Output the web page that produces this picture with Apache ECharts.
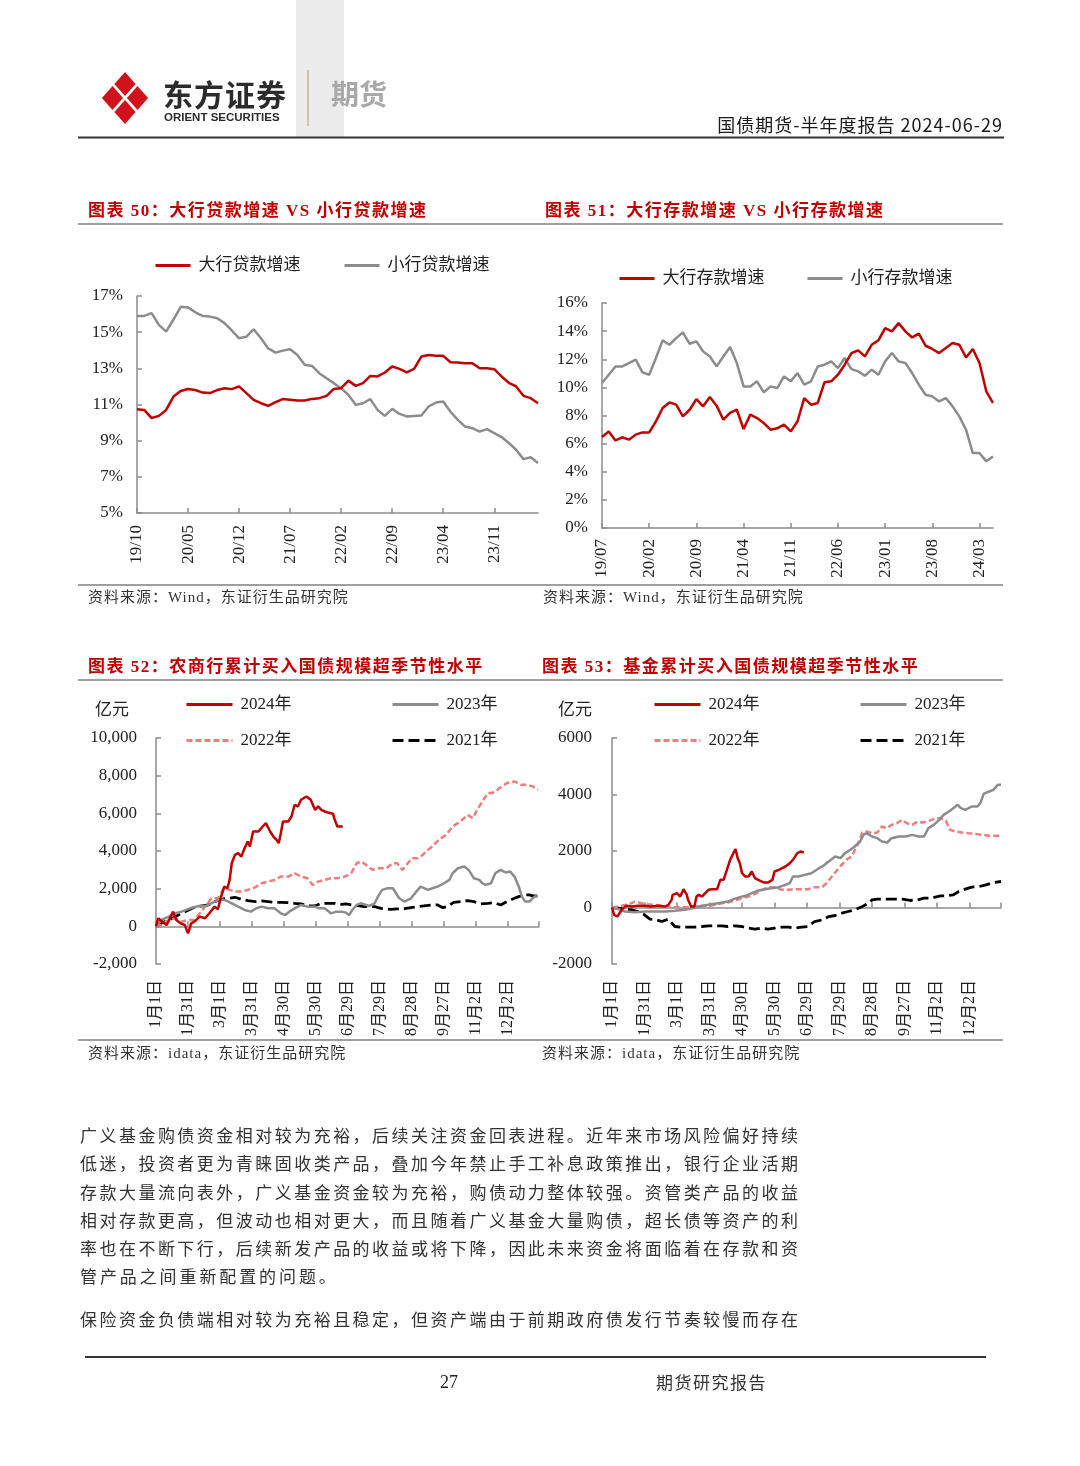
<!DOCTYPE html>
<html><head><meta charset="utf-8">
<script src="https://cdn.jsdelivr.net/npm/echarts@6/dist/echarts.min.js"></script>
<style>
html,body{margin:0;padding:0;background:#fff;}
#page{position:relative;width:1080px;height:1466px;overflow:hidden;background:#fff;}
#chart{position:absolute;left:0;top:0;width:1080px;height:1466px;}
.t{position:absolute;white-space:nowrap;line-height:1;font-family:"Liberation Serif","Noto Sans CJK SC",serif;z-index:5;}
.s{font-family:"Noto Sans CJK SC",sans-serif;}
.title{font-size:17px;font-weight:700;color:#c00000;letter-spacing:1.5px;}
.src{font-size:15px;color:#333;letter-spacing:1px;}
.p{font-size:17px;color:#333;width:718px;text-align:justify;text-align-last:justify;}
</style></head>
<body><div id="page">
<div id="chart"></div>
<div class="t s" style="left:163px;top:78px;font-size:30px;font-weight:700;color:#2b2b2b;letter-spacing:1px">东方证券</div>
<div class="t" style="left:164px;top:112px;font-size:11.5px;font-weight:700;color:#2b2b2b;font-family:'Liberation Sans',Arial,sans-serif">ORIENT SECURITIES</div>
<div class="t s" style="left:331px;top:79px;font-size:28px;font-weight:700;color:#a9a9a9">期货</div>
<div class="t s" style="right:77px;top:115px;font-size:18px;color:#1a1a1a;letter-spacing:1px">国债期货-半年度报告 2024-06-29</div>

<div class="t title" style="left:88px;top:202px">图表 50：大行贷款增速 VS 小行贷款增速</div>
<div class="t title" style="left:545px;top:202px">图表 51：大行存款增速 VS 小行存款增速</div>
<div class="t src" style="left:88px;top:590px">资料来源：Wind，东证衍生品研究院</div>
<div class="t src" style="left:543px;top:590px">资料来源：Wind，东证衍生品研究院</div>

<div class="t title" style="left:88px;top:658px">图表 52：农商行累计买入国债规模超季节性水平</div>
<div class="t title" style="left:542px;top:658px">图表 53：基金累计买入国债规模超季节性水平</div>
<div class="t s" style="left:95px;top:699px;font-size:17px;color:#222">亿元</div>
<div class="t s" style="left:558px;top:699px;font-size:17px;color:#222">亿元</div>
<div class="t src" style="left:88px;top:1046px">资料来源：idata，东证衍生品研究院</div>
<div class="t src" style="left:542px;top:1046px">资料来源：idata，东证衍生品研究院</div>

<div class="t p" style="left:80px;top:1128px">广义基金购债资金相对较为充裕，后续关注资金回表进程。近年来市场风险偏好持续</div>
<div class="t p" style="left:80px;top:1156px">低迷，投资者更为青睐固收类产品，叠加今年禁止手工补息政策推出，银行企业活期</div>
<div class="t p" style="left:80px;top:1185px">存款大量流向表外，广义基金资金较为充裕，购债动力整体较强。资管类产品的收益</div>
<div class="t p" style="left:80px;top:1213px">相对存款更高，但波动也相对更大，而且随着广义基金大量购债，超长债等资产的利</div>
<div class="t p" style="left:80px;top:1241px">率也在不断下行，后续新发产品的收益或将下降，因此未来资金将面临着在存款和资</div>
<div class="t" style="left:80px;top:1269px;font-size:17px;color:#333;letter-spacing:2.9px">管产品之间重新配置的问题。</div>
<div class="t p" style="left:80px;top:1312px">保险资金负债端相对较为充裕且稳定，但资产端由于前期政府债发行节奏较慢而存在</div>

<div class="t" style="left:440px;top:1373px;font-size:18px;color:#222">27</div>
<div class="t s" style="left:656px;top:1373px;font-size:17px;color:#333;letter-spacing:1.5px">期货研究报告</div>
</div>
<script>
// ---------- data ----------
const cat50 = ['19/10','19/11','19/12','20/01','20/02','20/03','20/04','20/05','20/06','20/07','20/08','20/09','20/10','20/11','20/12','21/01','21/02','21/03','21/04','21/05','21/06','21/07','21/08','21/09','21/10','21/11','21/12','22/01','22/02','22/03','22/04','22/05','22/06','22/07','22/08','22/09','22/10','22/11','22/12','23/01','23/02','23/03','23/04','23/05','23/06','23/07','23/08','23/09','23/10','23/11','23/12','24/01','24/02','24/03','24/04','24/05'];
const big50 = [10.74,10.7,10.25,10.37,10.7,11.44,11.75,11.86,11.8,11.66,11.63,11.8,11.9,11.85,12.0,11.63,11.26,11.07,10.93,11.13,11.3,11.26,11.22,11.22,11.31,11.35,11.48,11.86,11.9,12.32,12.03,12.18,12.58,12.55,12.77,13.1,12.97,12.78,12.97,13.65,13.74,13.7,13.69,13.34,13.32,13.28,13.28,13.0,13.0,12.95,12.55,12.2,12.0,11.48,11.35,11.07];
const small50 = [15.9,15.9,16.05,15.4,15.03,15.7,16.4,16.37,16.1,15.9,15.86,15.77,15.5,15.1,14.66,14.75,15.16,14.66,14.1,13.87,13.98,14.05,13.74,13.2,13.13,12.73,12.45,12.18,11.9,11.53,10.98,11.07,11.3,10.7,10.37,10.76,10.48,10.34,10.37,10.39,10.89,11.11,11.17,10.6,10.15,9.78,9.69,9.5,9.64,9.42,9.2,8.87,8.5,7.98,8.08,7.76];

const cat51 = ['19/07','19/08','19/09','19/10','19/11','19/12','20/01','20/02','20/03','20/04','20/05','20/06','20/07','20/08','20/09','20/10','20/11','20/12','21/01','21/02','21/03','21/04','21/05','21/06','21/07','21/08','21/09','21/10','21/11','21/12','22/01','22/02','22/03','22/04','22/05','22/06','22/07','22/08','22/09','22/10','22/11','22/12','23/01','23/02','23/03','23/04','23/05','23/06','23/07','23/08','23/09','23/10','23/11','23/12','24/01','24/02','24/03','24/04','24/05'];
const big51 = [6.47,6.87,6.23,6.45,6.28,6.64,6.8,6.8,7.58,8.53,8.93,8.77,7.94,8.41,9.17,8.65,9.31,8.7,7.7,8.18,8.41,7.04,8.06,7.82,7.46,6.99,7.09,7.35,6.87,7.58,9.24,8.77,8.89,10.36,10.43,10.9,11.61,12.44,12.63,12.2,13.03,13.34,14.22,13.98,14.57,13.98,13.55,13.82,12.96,12.73,12.44,12.8,13.15,13.03,12.13,12.73,11.73,9.72,8.89];
const small51 = [10.31,10.9,11.49,11.49,11.73,11.97,11.07,10.9,12.09,13.34,13.03,13.5,13.91,13.1,13.27,12.56,12.2,11.49,12.2,12.87,11.73,10.07,10.07,10.43,9.64,10.07,9.95,10.78,10.43,11.02,10.19,10.43,11.49,11.61,11.85,11.37,12.09,11.3,11.14,10.83,11.26,10.9,11.85,12.44,11.85,11.73,11.02,10.19,9.48,9.36,9.0,9.24,8.65,7.94,6.99,5.33,5.33,4.74,5.09];

// day-of-year axis (day index from 1月1日), labels every 30 days
const dayTickLabels = ['1月1日','1月31日','3月1日','3月31日','4月30日','5月30日','6月29日','7月29日','8月28日','9月27日','11月2日','12月2日'];

const rc2024 = [[0,0],[2,425],[6,248],[10,71],[16,780],[19,337],[23,160],[27,71],[30,-372],[33,160],[36,248],[41,514],[46,426],[50,691],[55,1046],[58,904],[61,1578],[64,2110],[67,2021],[69,2464],[71,3351],[74,3794],[77,3883],[80,3705],[83,4149],[86,4503],[88,4237],[91,5035],[96,5035],[100,5301],[103,5479],[107,5035],[110,4769],[113,4592],[115,4415],[117,4947],[119,5567],[124,5567],[127,5833],[130,6454],[133,6365],[136,6720],[141,6897],[145,6720],[149,6188],[152,6365],[155,6188],[158,6099],[161,6046],[166,5975],[167,5745],[170,5301],[174,5301],[175,5301]];
const rc2023 = [[0,0],[5,337],[12,514],[18,691],[24,780],[32,957],[40,1082],[47,1082],[55,1312],[61,1436],[66,1365],[71,1223],[77,1046],[83,869],[89,780],[94,957],[99,1046],[105,957],[111,957],[117,691],[121,603],[125,780],[130,957],[136,1135],[142,1046],[149,1046],[153,957],[158,957],[164,691],[169,780],[174,780],[178,727],[181,603],[184,869],[188,1135],[192,1223],[197,1135],[200,1082],[205,1223],[208,1578],[212,1933],[217,2021],[222,2021],[225,1755],[228,1489],[233,1312],[239,1489],[244,1844],[248,2110],[255,1933],[259,2021],[264,2110],[270,2287],[275,2464],[278,2819],[283,3085],[289,3174],[293,2996],[298,2553],[303,2464],[306,2287],[309,2199],[314,2287],[318,2819],[323,2996],[328,2855],[332,2908],[336,2642],[340,2110],[343,1578],[346,1312],[350,1312],[353,1489],[356,1613],[358,1578]];
const rc2022 = [[0,0],[5,71],[12,337],[18,426],[24,248],[30,337],[36,337],[41,691],[46,1046],[52,1489],[58,1489],[64,2021],[69,1933],[74,1844],[80,1844],[86,1933],[93,2074],[99,2287],[105,2376],[111,2464],[117,2642],[124,2642],[130,2819],[136,2642],[142,2553],[147,2199],[152,2376],[158,2464],[164,2553],[170,2553],[177,2642],[183,2819],[188,3351],[192,3440],[197,3262],[203,2996],[209,3085],[216,3085],[222,3351],[226,3351],[231,2996],[236,3351],[240,3617],[245,3617],[250,3794],[255,4060],[259,4237],[265,4592],[272,4858],[278,5301],[283,5479],[287,5656],[292,5922],[297,5745],[301,6188],[306,6631],[311,7074],[315,7074],[320,7252],[325,7464],[329,7606],[336,7695],[342,7517],[348,7517],[353,7429],[358,7252]];
const rc2021 = [[0,0],[5,160],[12,337],[18,514],[24,691],[32,904],[36,1011],[43,1082],[49,1135],[55,1312],[61,1436],[68,1489],[74,1543],[80,1436],[86,1365],[93,1312],[99,1347],[105,1312],[111,1277],[117,1277],[124,1259],[130,1223],[136,1188],[142,1082],[149,1082],[155,1223],[161,1223],[167,1223],[174,1170],[178,1188],[184,1135],[191,1082],[195,1046],[200,1046],[205,1046],[211,957],[216,922],[220,904],[226,922],[233,940],[239,993],[245,1046],[251,1082],[258,1135],[264,1135],[269,993],[273,1046],[279,1277],[286,1312],[292,1365],[298,1312],[304,1188],[311,1223],[317,1259],[323,1135],[329,1312],[336,1489],[340,1578],[345,1667],[350,1667],[353,1613],[358,1613]];

const fd2024 = [[0,0],[2,-260],[5,-319],[7,-201],[9,-83],[13,59],[18,35],[24,59],[30,59],[36,35],[43,59],[49,35],[52,94],[55,271],[56,448],[60,507],[63,389],[66,649],[69,448],[70,295],[73,35],[76,35],[78,389],[80,448],[83,389],[86,507],[89,625],[92,649],[97,649],[100,979],[103,979],[106,1333],[109,1687],[112,1923],[114,2065],[116,1746],[118,1569],[120,1215],[123,1097],[126,1097],[129,1274],[132,1038],[135,979],[140,885],[144,885],[148,979],[150,1274],[154,1333],[157,1392],[161,1475],[164,1569],[167,1687],[171,1923],[174,1982],[177,1947]];
const fd2023 = [[0,0],[6,-59],[12,-142],[21,-165],[30,-142],[39,-142],[49,-142],[58,-118],[67,-83],[73,-35],[80,35],[89,94],[98,153],[107,212],[113,307],[118,366],[123,413],[129,507],[135,602],[141,649],[147,684],[154,720],[160,802],[164,861],[167,1097],[172,1097],[178,1156],[184,1215],[191,1392],[195,1475],[200,1628],[206,1805],[211,1746],[215,1923],[220,2041],[224,2159],[229,2336],[232,2572],[235,2631],[240,2513],[245,2454],[249,2336],[254,2301],[258,2454],[265,2513],[271,2513],[277,2572],[283,2513],[288,2513],[292,2808],[297,2926],[302,3103],[306,3280],[311,3398],[315,3516],[319,3634],[322,3516],[326,3457],[332,3575],[337,3575],[340,3693],[343,4024],[348,4106],[352,4165],[356,4342],[359,4342]];
const fd2022 = [[0,0],[6,35],[12,94],[18,153],[21,212],[27,153],[33,118],[39,94],[46,59],[52,35],[58,12],[64,12],[70,12],[76,35],[83,59],[89,59],[95,94],[101,153],[107,177],[113,248],[120,330],[126,389],[132,484],[138,602],[144,720],[150,720],[157,625],[163,625],[169,649],[175,649],[181,649],[187,720],[194,720],[198,861],[203,1097],[208,1333],[212,1510],[217,1711],[221,1805],[226,2159],[231,2655],[235,2690],[240,2631],[245,2655],[249,2867],[254,2808],[258,2926],[263,2985],[268,3103],[272,2985],[277,2926],[282,3044],[286,3009],[292,3044],[298,3162],[303,3162],[308,3080],[312,2749],[317,2690],[323,2655],[329,2631],[335,2608],[342,2572],[348,2537],[354,2537],[359,2537]];
const fd2021 = [[0,0],[6,-24],[12,-59],[18,-83],[24,-142],[30,-260],[35,-413],[41,-437],[46,-496],[52,-413],[58,-673],[64,-696],[70,-696],[76,-696],[83,-673],[89,-649],[95,-649],[101,-649],[107,-673],[113,-649],[120,-673],[126,-732],[132,-767],[138,-732],[144,-767],[150,-732],[157,-696],[163,-696],[169,-732],[175,-696],[181,-673],[187,-496],[194,-437],[200,-319],[206,-283],[212,-201],[218,-142],[224,-83],[231,35],[237,153],[240,271],[245,295],[252,295],[260,295],[268,295],[275,248],[282,271],[288,330],[295,330],[303,413],[309,413],[315,448],[320,566],[326,649],[332,720],[339,743],[345,802],[352,885],[359,920]];

// ---------- styles ----------
const SERIF = '"Liberation Serif","Noto Sans CJK SC",serif';
const RED = '#c00000', GRAY = '#8c8c8c', PINK = '#ef7d7d', BLACK = '#000000';
const AX = '#8c8c8c';
const axLine = {lineStyle:{color:AX,width:1.5}};
const axTick = {inside:true,length:5,lineStyle:{color:AX,width:1.5}};
const lab = (o) => Object.assign({fontSize:17,color:'#222',fontFamily:SERIF}, o);
const dayFmt = v => (v % 30 === 0 && dayTickLabels[v/30] !== undefined) ? dayTickLabels[v/30] : '';

const leg = (name,left,top,w) => ({data:[name],left:left,top:top,padding:0,itemWidth:w,itemHeight:12,itemGap:0,selectedMode:false,
  itemStyle:{opacity:0},lineStyle:{width:3},
  textStyle:{fontSize:17,color:'#222',fontFamily:SERIF,padding:[0,0,0,3]}});

const line = (name,data,color,xi,yi,type,width) => ({name:name,type:'line',data:data,xAxisIndex:xi,yAxisIndex:yi,
  symbol:'none',showSymbol:false,silent:true,lineStyle:{color:color,width:width||2.5,type:type||'solid'},itemStyle:{color:color}});

const option = {
  animation:false,
  backgroundColor:'transparent',
  grid:[
    {left:137,top:296,width:401,height:217,outerBoundsMode:'none'},
    {left:602,top:303,width:391,height:225,outerBoundsMode:'none'},
    {left:156,top:738,width:383,height:226,outerBoundsMode:'none'},
    {left:612,top:738,width:389,height:226,outerBoundsMode:'none'}
  ],
  xAxis:[
    {type:'category',gridIndex:0,data:cat50,boundaryGap:false,axisLine:axLine,
     axisTick:Object.assign({interval:6},axTick),axisLabel:lab({rotate:90,interval:6,margin:12}),splitLine:{show:false}},
    {type:'category',gridIndex:1,data:cat51,boundaryGap:false,axisLine:axLine,
     axisTick:Object.assign({interval:6},axTick),axisLabel:lab({rotate:90,interval:6,margin:11}),splitLine:{show:false}},
    {type:'value',gridIndex:2,min:0,max:359,interval:30,position:'bottom',axisLine:{show:false,onZero:false},axisTick:{show:false},
     axisLabel:lab({rotate:90,margin:16,fontSize:16,formatter:dayFmt,showMaxLabel:false}),splitLine:{show:false}},
    {type:'value',gridIndex:2,min:0,max:359,interval:30,position:'bottom',axisLine:Object.assign({onZero:true},axLine),axisTick:axTick,
     axisLabel:{show:false},splitLine:{show:false}},
    {type:'value',gridIndex:3,min:0,max:359,interval:30,position:'bottom',axisLine:{show:false,onZero:false},axisTick:{show:false},
     axisLabel:lab({rotate:90,margin:16,fontSize:16,formatter:dayFmt,showMaxLabel:false}),splitLine:{show:false}},
    {type:'value',gridIndex:3,min:0,max:359,interval:30,position:'bottom',axisLine:Object.assign({onZero:true},axLine),axisTick:axTick,
     axisLabel:{show:false},splitLine:{show:false}}
  ],
  yAxis:[
    {type:'value',gridIndex:0,min:5,max:17,interval:2,axisLine:Object.assign({show:true},axLine),axisTick:Object.assign({show:true},axTick),
     axisLabel:lab({margin:14,formatter:'{value}%'}),splitLine:{show:false}},
    {type:'value',gridIndex:1,min:0,max:16,interval:2,axisLine:Object.assign({show:true},axLine),axisTick:Object.assign({show:true},axTick),
     axisLabel:lab({margin:14,formatter:'{value}%'}),splitLine:{show:false}},
    {type:'value',gridIndex:2,min:-2000,max:10000,interval:2000,axisLine:Object.assign({show:true,onZero:false},axLine),axisTick:Object.assign({show:true},axTick),
     axisLabel:lab({margin:19,formatter:v=>v.toLocaleString('en-US')}),splitLine:{show:false}},
    {type:'value',gridIndex:3,min:-2000,max:6000,interval:2000,axisLine:Object.assign({show:true,onZero:false},axLine),axisTick:Object.assign({show:true},axTick),
     axisLabel:lab({margin:20,formatter:v=>String(v)}),splitLine:{show:false}}
  ],
  legend:[
    leg('大行贷款增速',154,257,35), leg('小行贷款增速',343,257,35),
    leg('大行存款增速',618,270,35), leg('小行存款增速',806,270,35),
    leg('2024年',185,696,46), leg('2023年',391,696,46), leg('2022年',185,732,46), leg('2021年',391,732,46),
    leg('2024年',653,696,46), leg('2023年',859,696,46), leg('2022年',653,732,46), leg('2021年',859,732,46)
  ],
  series:[
    line('小行贷款增速',small50,GRAY,0,0),
    line('大行贷款增速',big50,RED,0,0),
    line('小行存款增速',small51,GRAY,1,1),
    line('大行存款增速',big51,RED,1,1),
    line('2021年',rc2021,BLACK,2,2,[11,5],2.8),
    line('2022年',rc2022,PINK,2,2,[6,3],2.5),
    line('2023年',rc2023,GRAY,2,2),
    line('2024年',rc2024,RED,2,2),
    line('2021年',fd2021,BLACK,4,3,[11,5],2.8),
    line('2022年',fd2022,PINK,4,3,[6,3],2.5),
    line('2023年',fd2023,GRAY,4,3),
    line('2024年',fd2024,RED,4,3)
  ],
  graphic:[
    {type:'rect',shape:{x:296,y:0,width:48,height:137},style:{fill:'#ececec'},z:-10},
    {type:'polygon',shape:{points:[[125,72],[135.6,84],[125,95.9],[114.4,84]]},style:{fill:'#d2121b'}},
    {type:'polygon',shape:{points:[[137.5,86.1],[148.1,98],[137.5,109.9],[126.9,98]]},style:{fill:'#d2121b'}},
    {type:'polygon',shape:{points:[[125,100.1],[135.6,112],[125,123.9],[114.4,112]]},style:{fill:'#d2121b'}},
    {type:'polygon',shape:{points:[[112.5,86.1],[123.1,98],[112.5,109.9],[101.9,98]]},style:{fill:'#d2121b'}},
    {type:'line',shape:{x1:308,y1:70,x2:308,y2:126},style:{stroke:'#c9b68f',lineWidth:1.5}},
    {type:'line',shape:{x1:78,y1:137.5,x2:1004,y2:137.5},style:{stroke:'#333',lineWidth:2}},
    {type:'line',shape:{x1:78,y1:224,x2:1003,y2:224},style:{stroke:'#7f7f7f',lineWidth:1.5}},
    {type:'line',shape:{x1:78,y1:585,x2:1003,y2:585},style:{stroke:'#7f7f7f',lineWidth:1.5}},
    {type:'line',shape:{x1:78,y1:680,x2:1003,y2:680},style:{stroke:'#7f7f7f',lineWidth:1.5}},
    {type:'line',shape:{x1:78,y1:1040,x2:1003,y2:1040},style:{stroke:'#7f7f7f',lineWidth:1.5}},
    {type:'line',shape:{x1:85,y1:1357,x2:986,y2:1357},style:{stroke:'#333',lineWidth:2}}
  ]
};
const chart = echarts.init(document.getElementById('chart'), null, {renderer:'canvas'});
chart.setOption(option);
</script>
</body></html>
